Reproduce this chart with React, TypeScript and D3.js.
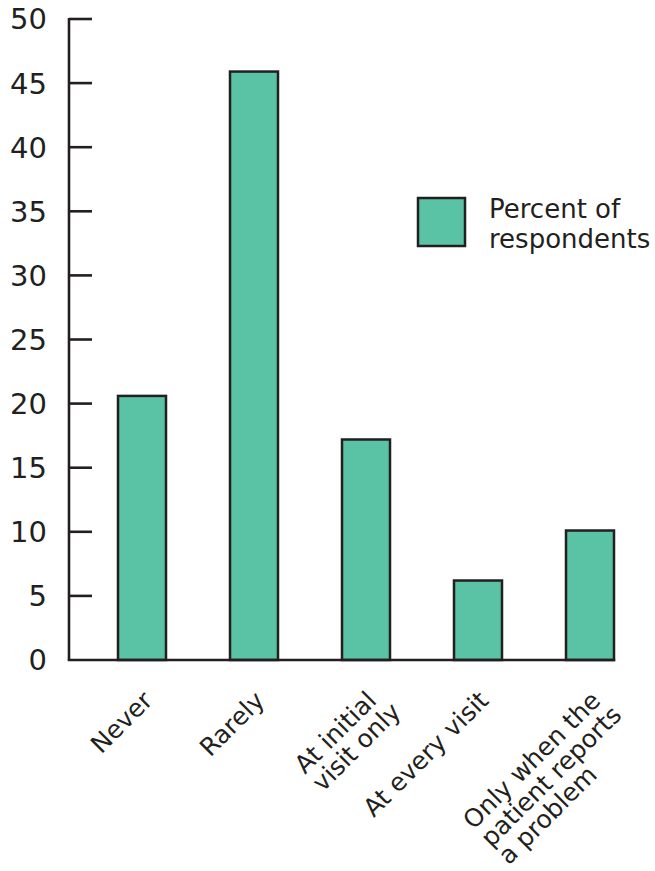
import React, { useEffect, useRef } from "react";
import * as d3 from "d3";

const categories = [
  "Never",
  "Rarely",
  "At initial\nvisit only",
  "At every visit",
  "Only when the\npatient reports\na problem",
];
const values = [20.6, 45.9, 17.2, 6.2, 10.1];
const yTicks = [0, 5, 10, 15, 20, 25, 30, 35, 40, 45, 50];
const legendLines = ["Percent of", "respondents"];

const W = 655;
const H = 871;
const FILL = "#5bc3a5";
const INK = "#231f20";
const FONT = "'DejaVu Sans', Verdana, sans-serif";

export default function App() {
  const ref = useRef<SVGSVGElement | null>(null);

  useEffect(() => {
    const svg = d3.select(ref.current);
    svg.selectAll("*").remove();

    const axisX = 69;
    const y = d3.scaleLinear().domain([0, 50]).range([660, 19]);
    const x = d3
      .scaleBand<string>()
      .domain(categories)
      .range([86, 646])
      .paddingInner(4 / 7)
      .paddingOuter(2 / 7)
      .align(0.5);

    // bars
    svg
      .append("g")
      .selectAll("rect")
      .data(values)
      .join("rect")
      .attr("x", (_, i) => x(categories[i])!)
      .attr("y", (d) => y(d))
      .attr("width", x.bandwidth())
      .attr("height", (d) => y(0) - y(d))
      .attr("fill", FILL)
      .attr("stroke", INK)
      .attr("stroke-width", 2.5);

    // y axis line
    svg
      .append("line")
      .attr("x1", axisX)
      .attr("x2", axisX)
      .attr("y1", y(0))
      .attr("y2", y(50) - 1)
      .attr("stroke", INK)
      .attr("stroke-width", 2.6);

    // baseline
    const lastEnd = x(categories[categories.length - 1])! + x.bandwidth();
    svg
      .append("line")
      .attr("x1", axisX - 1.3)
      .attr("x2", lastEnd + 1.2)
      .attr("y1", y(0))
      .attr("y2", y(0))
      .attr("stroke", INK)
      .attr("stroke-width", 2.6);

    // ticks
    const tg = svg.append("g");
    tg.selectAll("line")
      .data(yTicks.filter((t) => t > 0))
      .join("line")
      .attr("x1", axisX)
      .attr("x2", axisX + 23)
      .attr("y1", (d) => y(d))
      .attr("y2", (d) => y(d))
      .attr("stroke", INK)
      .attr("stroke-width", 2.6);
    tg.selectAll("text")
      .data(yTicks)
      .join("text")
      .attr("x", 47)
      .attr("y", (d) => y(d))
      .attr("dy", "0.36em")
      .attr("text-anchor", "end")
      .attr("font-family", FONT)
      .attr("font-size", 29)
      .attr("fill", INK)
      .text((d) => String(d));

    // x labels
    const fs = 25;
    const lh = 25;
    categories.forEach((c) => {
      const lines = c.split("\n");
      const cx = x(c)! + x.bandwidth() / 2;
      const g = svg
        .append("g")
        .attr("transform", `translate(${cx + 12},702) rotate(-45)`);
      const first = g
        .append("text")
        .attr("x", 0)
        .attr("y", 0)
        .attr("text-anchor", "end")
        .attr("font-family", FONT)
        .attr("font-size", fs)
        .attr("fill", INK)
        .text(lines[0]);
      const w1 = (first.node() as SVGTextElement).getComputedTextLength();
      lines.slice(1).forEach((ln, i) => {
        g.append("text")
          .attr("x", -w1)
          .attr("y", (i + 1) * lh)
          .attr("text-anchor", "start")
          .attr("font-family", FONT)
          .attr("font-size", fs)
          .attr("fill", INK)
          .text(ln);
      });
    });

    // legend
    svg
      .append("rect")
      .attr("x", 418)
      .attr("y", 198)
      .attr("width", 47)
      .attr("height", 48)
      .attr("fill", FILL)
      .attr("stroke", INK)
      .attr("stroke-width", 2.5);
    svg
      .append("g")
      .selectAll("text")
      .data(legendLines)
      .join("text")
      .attr("x", 489)
      .attr("y", (_, i) => 218 + i * 30)
      .attr("font-family", FONT)
      .attr("font-size", 26)
      .attr("fill", INK)
      .text((d) => d);
  }, []);

  return (
    <svg
      ref={ref}
      width={W}
      height={H}
      style={{ position: "absolute", left: 0, top: 0, background: "#fff" }}
    />
  );
}
